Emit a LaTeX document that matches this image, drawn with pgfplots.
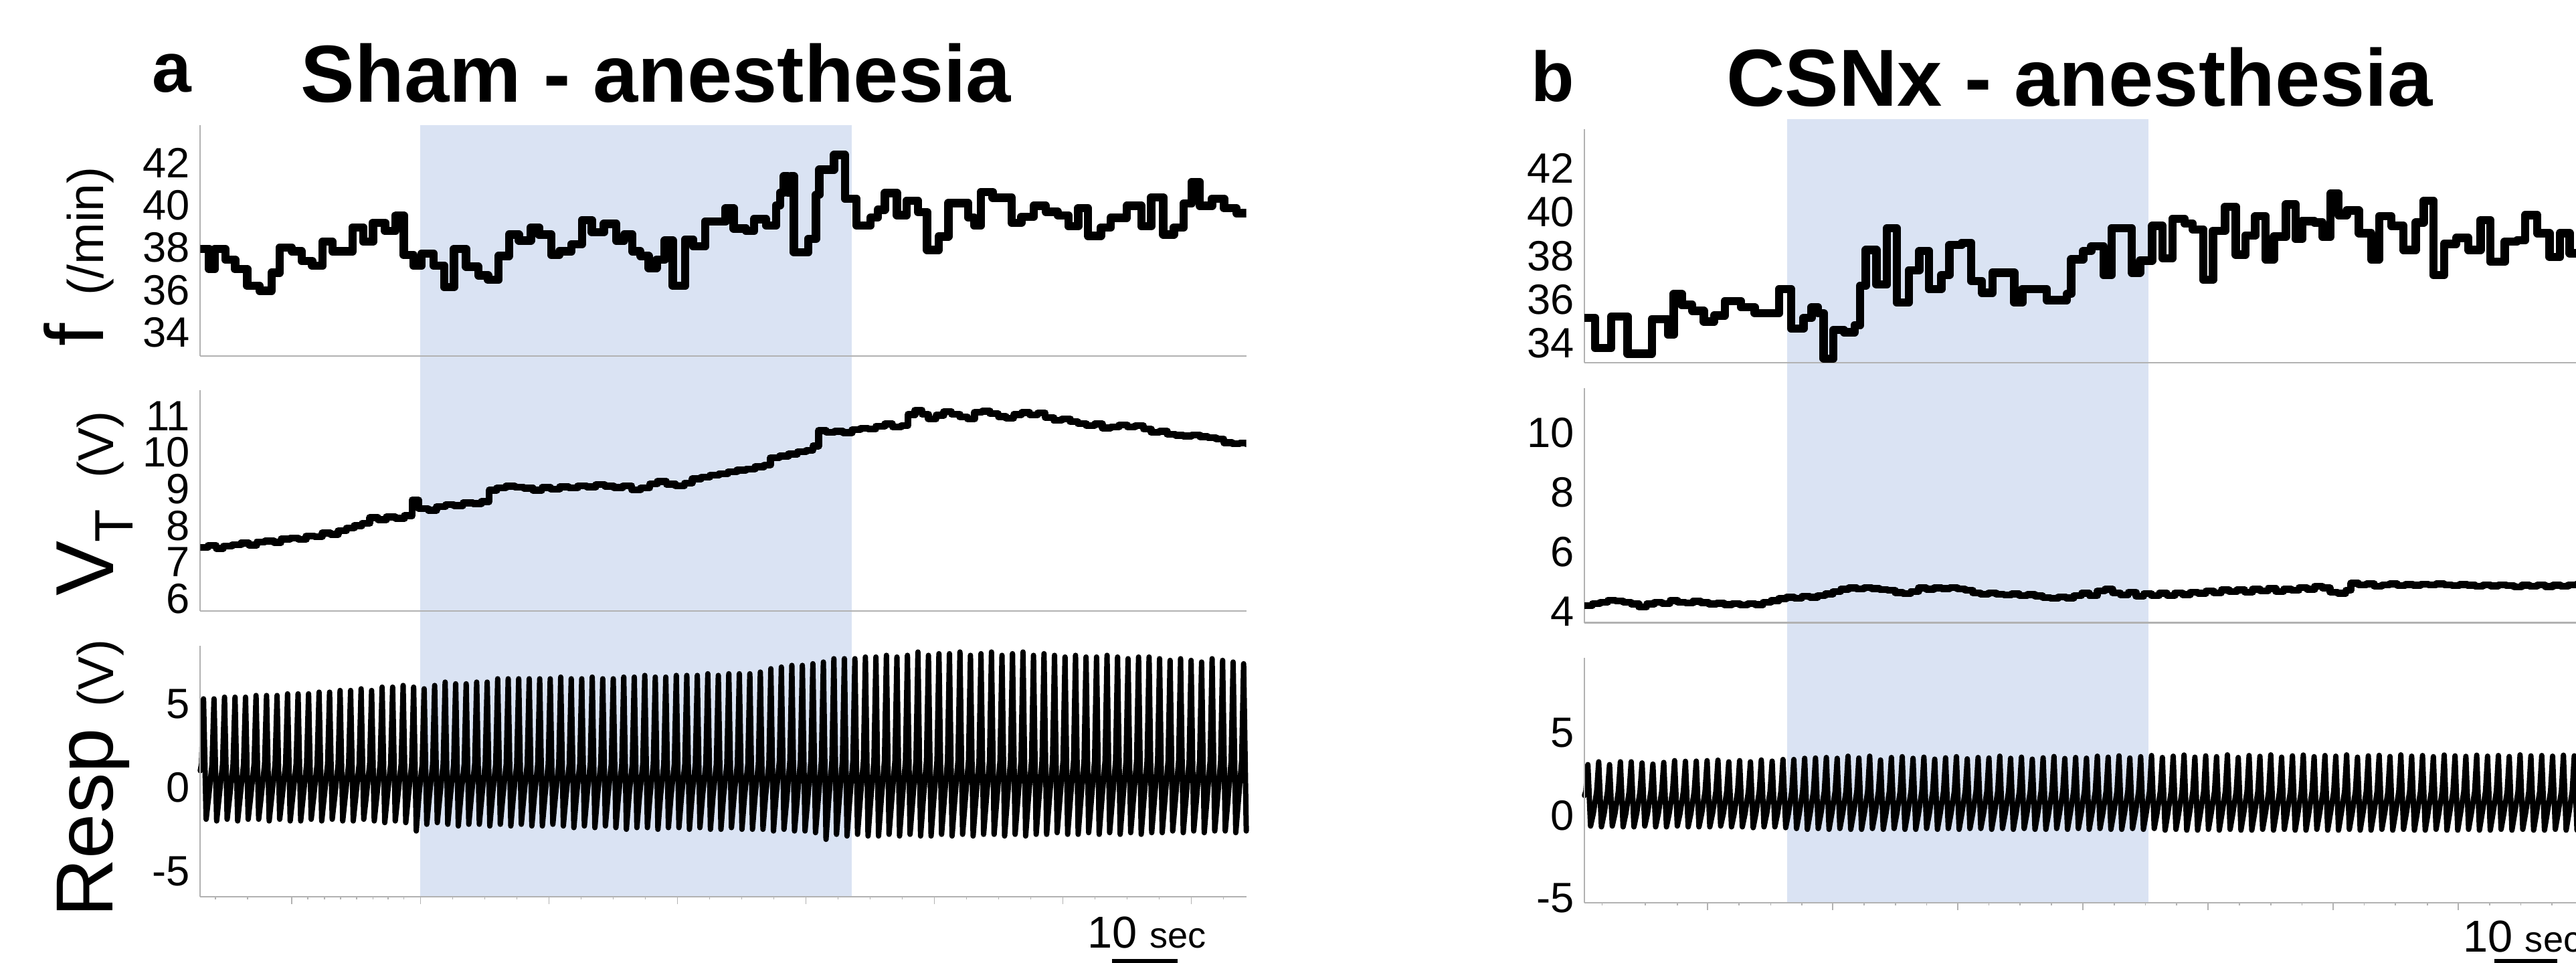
\documentclass[border=0pt]{standalone}
\usepackage{fontspec}
\setmainfont{Liberation Sans}
\usepackage{pgfplots}
\pgfplotsset{compat=1.18}
\usepackage{pgfplotstable}
\definecolor{bandblue}{RGB}{218,227,243}
\definecolor{axgray}{RGB}{178,178,178}

\pgfplotsset{
  tracestyle/.style={black, line join=round, line cap=round, mark=none},
  panel/.style={
    scale only axis, width=7.8167cm,
    axis x line*=bottom, axis y line*=left,
    axis line style={axgray, line width=0.12mm},
    tick align=outside,
    major tick length=0.53mm, minor tick length=0.2mm,
    tick style={axgray, line width=0.08mm},
    ytick style={draw=none},
    yticklabel style={font=\fontsize{9}{9}\selectfont, inner sep=0pt, xshift=-0.17mm},
    xtick=\empty,
  },
}

\begin{document}
\begin{tikzpicture}
\useasboundingbox (0,0) rectangle (19.25,7.195);

% respiration traces: t, a = sham, b = CSNx
\pgfplotstableread{
t a b
0.0 1.0 1.2
0.2 1.4 1.45
0.5 5.3 3.07
0.9 -1.9 -0.65
1.3 -0.5 0.1
1.8 1.4 1.45
2.1 5.3 3.24
2.5 -2.0 -0.70
2.9 -0.5 0.1
3.4 1.4 1.45
3.7 5.4 3.07
4.1 -1.9 -0.65
4.5 -0.5 0.1
5.0 1.4 1.45
5.3 5.4 3.24
5.7 -2.0 -0.70
6.1 -0.5 0.1
6.6 1.4 1.45
6.9 5.4 3.24
7.3 -1.9 -0.70
7.7 -0.5 0.1
8.2 1.4 1.45
8.5 5.5 3.17
8.9 -1.9 -0.65
9.3 -0.5 0.1
9.8 1.4 1.45
10.1 5.5 3.10
10.5 -2.0 -0.70
10.9 -0.5 0.1
11.4 1.4 1.45
11.7 5.5 3.20
12.1 -1.9 -0.70
12.5 -0.5 0.1
13.0 1.4 1.45
13.3 5.6 3.31
13.7 -2.0 -0.65
14.1 -0.5 0.1
14.6 1.4 1.45
14.9 5.6 3.27
15.3 -2.0 -0.70
15.7 -0.5 0.1
16.2 1.4 1.45
16.5 5.6 3.28
16.9 -1.9 -0.70
17.3 -0.5 0.1
17.8 1.4 1.45
18.1 5.7 3.31
18.5 -2.0 -0.70
18.9 -0.5 0.1
19.4 1.4 1.45
19.7 5.7 3.34
20.1 -1.9 -0.65
20.5 -0.5 0.1
21.0 1.4 1.45
21.3 5.8 3.24
21.7 -2.0 -0.70
22.1 -0.5 0.1
22.6 1.4 1.45
22.9 5.8 3.31
23.3 -2.0 -0.70
23.7 -0.5 0.1
24.2 1.4 1.45
24.5 5.9 3.24
24.9 -1.9 -0.75
25.3 -0.5 0.1
25.8 1.4 1.45
26.1 5.8 3.35
26.5 -2.0 -0.70
26.9 -0.5 0.1
27.4 1.4 1.45
27.7 6.0 3.28
28.1 -2.1 -0.70
28.5 -0.5 0.1
29.0 1.4 1.45
29.3 6.0 3.38
29.7 -2.0 -0.75
30.1 -0.5 0.1
30.6 1.4 1.45
30.9 6.1 3.38
31.3 -2.1 -0.80
31.7 -0.5 0.1
32.2 1.4 1.45
32.5 6.0 3.45
32.9 -2.6 -0.85
33.3 -0.5 0.1
33.8 1.4 1.45
34.1 5.9 3.47
34.5 -2.2 -0.80
34.9 -0.5 0.1
35.4 1.4 1.45
35.7 6.1 3.50
36.1 -2.1 -0.85
36.5 -0.5 0.1
37.0 1.4 1.45
37.3 6.3 3.45
37.7 -2.2 -0.80
38.1 -0.5 0.1
38.6 1.4 1.45
38.9 6.2 3.58
39.3 -2.3 -0.85
39.7 -0.5 0.1
40.2 1.4 1.45
40.5 6.2 3.47
40.9 -2.2 -0.85
41.3 -0.5 0.1
41.8 1.4 1.45
42.1 6.3 3.58
42.5 -2.2 -0.80
42.9 -0.5 0.1
43.4 1.4 1.45
43.7 6.3 3.35
44.1 -2.3 -0.85
44.5 -0.5 0.1
45.0 1.4 1.45
45.3 6.5 3.50
45.7 -2.2 -0.80
46.1 -0.5 0.1
46.6 1.4 1.45
46.9 6.5 3.55
47.3 -2.3 -0.85
47.7 -0.5 0.1
48.2 1.4 1.45
48.5 6.5 3.45
48.9 -2.2 -0.85
49.3 -0.5 0.1
49.8 1.4 1.45
50.1 6.5 3.52
50.5 -2.3 -0.80
50.9 -0.5 0.1
51.4 1.4 1.45
51.7 6.5 3.40
52.1 -2.3 -0.85
52.5 -0.5 0.1
53.0 1.4 1.45
53.3 6.5 3.48
53.7 -2.2 -0.80
54.1 -0.5 0.1
54.6 1.4 1.45
54.9 6.6 3.55
55.3 -2.3 -0.85
55.7 -0.5 0.1
56.2 1.4 1.45
56.5 6.5 3.42
56.9 -2.4 -0.80
57.3 -0.5 0.1
57.8 1.4 1.45
58.1 6.5 3.50
58.5 -2.3 -0.80
58.9 -0.5 0.1
59.4 1.4 1.45
59.7 6.6 3.47
60.1 -2.4 -0.85
60.5 -0.5 0.1
61.0 1.4 1.45
61.3 6.5 3.58
61.7 -2.3 -0.80
62.1 -0.5 0.1
62.6 1.4 1.45
62.9 6.5 3.45
63.3 -2.4 -0.85
63.7 -0.5 0.1
64.2 1.4 1.45
64.5 6.6 3.52
64.9 -2.5 -0.80
65.3 -0.5 0.1
65.8 1.4 1.45
66.1 6.6 3.40
66.5 -2.4 -0.85
66.9 -0.5 0.1
67.4 1.4 1.45
67.7 6.7 3.48
68.1 -2.4 -0.85
68.5 -0.5 0.1
69.0 1.4 1.45
69.3 6.6 3.56
69.7 -2.5 -0.80
70.1 -0.5 0.1
70.6 1.4 1.45
70.9 6.6 3.44
71.3 -2.4 -0.85
71.7 -0.5 0.1
72.2 1.4 1.45
72.5 6.7 3.50
72.9 -2.4 -0.80
73.3 -0.5 0.1
73.8 1.4 1.45
74.1 6.7 3.46
74.5 -2.5 -0.85
74.9 -0.5 0.1
75.4 1.4 1.45
75.7 6.7 3.58
76.1 -2.4 -0.80
76.5 -0.5 0.1
77.0 1.4 1.45
77.3 6.8 3.52
77.7 -2.5 -0.85
78.1 -0.5 0.1
78.6 1.4 1.45
78.9 6.7 3.60
79.3 -2.5 -0.85
79.7 -0.5 0.1
80.2 1.4 1.45
80.5 6.8 3.47
80.9 -2.4 -0.80
81.3 -0.5 0.1
81.8 1.4 1.45
82.1 6.8 3.55
82.5 -2.5 -0.85
82.9 -0.5 0.1
83.4 1.4 1.45
83.7 6.8 3.62
84.1 -2.5 -0.80
84.5 -0.5 0.1
85.0 1.4 1.45
85.3 6.9 3.50
85.7 -2.5 -0.90
86.1 -0.5 0.1
86.6 1.4 1.45
86.9 7.1 3.58
87.3 -2.6 -0.85
87.7 -0.5 0.1
88.2 1.6 1.45
88.5 7.2 3.65
88.9 -2.5 -0.90
89.3 -0.8 0.1
89.8 1.6 1.45
90.1 7.3 3.52
90.5 -2.6 -0.90
90.9 -0.8 0.1
91.4 1.6 1.45
91.7 7.3 3.60
92.1 -2.6 -0.85
92.5 -0.8 0.1
93.0 1.6 1.45
93.3 7.4 3.55
93.7 -2.7 -0.90
94.1 -0.8 0.1
94.6 1.6 1.45
94.9 7.5 3.66
95.3 -3.1 -0.85
95.7 -0.8 0.1
96.2 1.6 1.45
96.5 7.7 3.50
96.9 -2.8 -0.90
97.3 -0.8 0.1
97.8 1.6 1.45
98.1 7.7 3.62
98.5 -2.9 -0.90
98.9 -0.8 0.1
99.4 1.6 1.45
99.7 7.7 3.57
100.1 -2.8 -0.85
100.5 -0.8 0.1
101.0 1.6 1.45
101.3 7.8 3.66
101.7 -2.9 -0.90
102.1 -0.8 0.1
102.6 1.6 1.45
102.9 7.8 3.52
103.3 -2.9 -0.85
103.7 -0.8 0.1
104.2 1.6 1.45
104.5 7.9 3.60
104.9 -2.8 -0.90
105.3 -0.8 0.1
105.8 1.6 1.45
106.1 7.8 3.65
106.5 -2.9 -0.90
106.9 -0.8 0.1
107.4 1.6 1.45
107.7 7.9 3.55
108.1 -2.8 -0.85
108.5 -0.8 0.1
109.0 1.6 1.45
109.3 8.1 3.62
109.7 -2.9 -0.90
110.1 -0.8 0.1
110.6 1.6 1.45
110.9 7.9 3.58
111.3 -2.9 -0.90
111.7 -0.8 0.1
112.2 1.6 1.45
112.5 8.0 3.66
112.9 -2.8 -0.85
113.3 -0.8 0.1
113.8 1.6 1.45
114.1 8.0 3.52
114.5 -2.9 -0.90
114.9 -0.8 0.1
115.4 1.6 1.45
115.7 8.1 3.60
116.1 -2.8 -0.90
116.5 -0.8 0.1
117.0 1.6 1.45
117.3 7.9 3.63
117.7 -2.9 -0.85
118.1 -0.8 0.1
118.6 1.6 1.45
118.9 8.0 3.56
119.3 -2.8 -0.90
119.7 -0.8 0.1
120.2 1.6 1.45
120.5 8.1 3.66
120.9 -2.8 -0.85
121.3 -0.8 0.1
121.8 1.6 1.45
122.1 7.9 3.58
122.5 -2.9 -0.90
122.9 -0.8 0.1
123.4 1.6 1.45
123.7 8.0 3.62
124.1 -2.8 -0.90
124.5 -0.8 0.1
125.0 1.6 1.45
125.3 8.1 3.55
125.7 -2.9 -0.85
126.1 -0.8 0.1
126.6 1.6 1.45
126.9 7.9 3.65
127.3 -2.8 -0.90
127.7 -0.8 0.1
128.2 1.6 1.45
128.5 8.0 3.60
128.9 -2.8 -0.90
129.3 -0.8 0.1
129.8 1.6 1.45
130.1 7.9 3.57
130.5 -2.7 -0.85
130.9 -0.8 0.1
131.4 1.6 1.45
131.7 7.8 3.64
132.1 -2.8 -0.90
132.5 -0.8 0.1
133.0 1.6 1.45
133.3 7.9 3.58
133.7 -2.8 -0.90
134.1 -0.8 0.1
134.6 1.6 1.45
134.9 7.8 3.62
135.3 -2.7 -0.85
135.7 -0.8 0.1
136.2 1.6 1.45
136.5 7.8 3.56
136.9 -2.8 -0.90
137.3 -0.8 0.1
137.8 1.6 1.45
138.1 7.9 3.66
138.5 -2.7 -0.85
138.9 -0.8 0.1
139.4 1.6 1.45
139.7 7.8 3.60
140.1 -2.8 -0.90
140.5 -0.8 0.1
141.0 1.6 1.45
141.3 7.7 3.62
141.7 -2.7 -0.90
142.1 -0.8 0.1
142.6 1.6 1.45
142.9 7.8 3.58
143.3 -2.8 -0.85
143.7 -0.8 0.1
144.2 1.6 1.45
144.5 7.8 3.64
144.9 -2.7 -0.90
145.3 -0.8 0.1
145.8 1.6 1.45
146.1 7.7 3.60
146.5 -2.7 -0.90
146.9 -0.8 0.1
147.4 1.6 1.45
147.7 7.6 3.56
148.1 -2.6 -0.85
148.5 -0.8 0.1
149.0 1.6 1.45
149.3 7.7 3.62
149.7 -2.7 -0.90
150.1 -0.8 0.1
150.6 1.6 1.45
150.9 7.6 3.60
151.3 -2.6 -0.85
151.7 -0.8 0.1
152.2 1.6 1.45
152.5 7.5 3.64
152.9 -2.7 -0.90
153.3 -0.8 0.1
153.8 1.6 1.45
154.1 7.7 3.60
154.5 -2.6 -0.90
154.9 -0.8 0.1
155.4 1.6 1.45
155.7 7.6 3.62
156.1 -2.6 -0.85
156.5 -0.8 0.1
157.0 1.6 1.45
157.3 7.5 3.58
157.7 -2.7 -0.90
158.1 -0.8 0.1
158.6 1.6 1.45
158.9 7.4 3.60
159.3 -2.6 -0.90
}\resptab

%% ---------- panel a ----------
\begin{axis}[panel, at={(1.4963cm,0.4953cm)}, anchor=south west,
    height=1.8744cm, xmin=0, xmax=159.3, ymin=-6.53, ymax=8.47,
    clip=false, axis on top,
    ytick={-5,0,5}, yticklabels={-5,0,5},
    xtick={13.96,33.53,53.1,72.67,92.24,111.81,131.38,150.95}, xticklabels={},
    minor xtick={2.3,7.2,16.4,18.9,21.4,23.8,26.3,28.6,31.0,38.42,43.31,48.21,57.99,62.88,67.78,77.56,82.45,87.35,97.13,102.02,106.92,116.70,121.59,126.49,136.27,141.16,146.06,155.84}]
  \addplot[fill=bandblue, draw=none, forget plot] coordinates {(33.5,-6.53) (99.2,-6.53) (99.2,39.6) (33.5,39.6)};
  \addplot[tracestyle, line width=0.4mm] table[x=t, y=a] {\resptab};
  \draw[black, line width=0.45mm] (axis cs:138.9,-10.45) -- (axis cs:148.8,-10.45);
\end{axis}

\begin{axis}[panel, at={(1.4963cm,4.5362cm)}, anchor=south west,
    height=1.7222cm, xmin=0, xmax=162.9, ymin=32.9, ymax=43.77,
    ytick={34,36,38,40,42}, yticklabels={34,36,38,40,42}]
  \addplot[tracestyle, line width=0.62mm, const plot] coordinates {
    (0,37.94) (1.39,36.99) (2.27,37.94) (3.91,37.44) (5.43,36.99) (7.32,36.20) (9.22,35.97) (11.11,36.82)
    (12.37,38.00) (14.27,37.83) (15.78,37.38) (17.42,37.15) (19.06,38.28) (20.58,37.83) (23.74,38.96)
    (25.38,38.28) (26.89,39.18) (28.79,38.79) (30.43,39.52) (31.69,37.66) (33.20,37.15) (34.47,37.72)
    (36.36,37.15) (38.00,36.14) (39.52,37.94) (41.41,37.10) (43.30,36.70) (44.82,36.48) (46.46,37.61)
    (48.10,38.62) (49.62,38.34) (51.51,38.96) (52.77,38.62) (54.67,37.66) (55.93,37.83) (57.82,38.17)
    (59.46,39.30) (60.98,38.73) (62.87,39.13) (64.77,38.34) (66.03,38.62) (67.29,37.83) (68.55,37.61)
    (69.82,37.04) (71.08,37.44) (72.34,38.34) (73.60,36.20) (75.50,38.39) (76.76,38.06) (78.65,39.24)
    (81.81,39.86) (83.07,38.90) (84.97,38.79) (86.23,39.35) (88.12,39.05) (89.67,40.0) (90.3,40.6)
    (90.9,41.37) (91.5,40.6) (92.0,41.37) (92.45,37.79) (94.7,38.42) (95.9,40.5) (96.4,41.68)
    (98.7,42.37) (100.4,40.31) (102.2,39.05) (104.4,39.42) (105.5,39.79) (106.6,40.58) (108.5,39.53)
    (110.0,40.21) (111.8,39.68) (113.2,37.89) (115.0,38.53) (116.5,40.10) (119.6,39.42) (120.5,39.05)
    (121.6,40.63) (123.4,40.36) (126.38,39.18) (127.89,39.46) (129.79,39.97) (131.68,39.69) (133.57,39.52)
    (135.21,39.01) (136.73,39.86) (138.24,38.56) (140.26,38.96) (141.78,39.41) (144.30,39.97) (146.58,39.01)
    (148.09,40.37) (149.98,38.62) (151.63,38.96) (153.14,40.08) (154.40,41.10) (155.66,39.97) (157.56,40.31)
    (159.45,39.86) (161.35,39.63) (162.9,39.63)};
\end{axis}

\begin{axis}[panel, at={(1.4963cm,2.6312cm)}, anchor=south west,
    height=1.6473cm, xmin=0, xmax=162.9, ymin=5.67, ymax=11.70,
    ytick={6,7,8,9,10,11}, yticklabels={6,7,8,9,10,11}]
  \addplot[tracestyle, line width=0.52mm, const plot] coordinates {
    (0,7.40) (1.2,7.46) (2.5,7.38) (3.6,7.44) (5.0,7.48) (6.4,7.52) (7.6,7.47) (8.8,7.55) (10.1,7.58)
    (11.5,7.54) (12.6,7.63) (14.0,7.66) (15.3,7.62) (16.5,7.72) (17.8,7.70) (19.0,7.80) (20.3,7.76)
    (21.5,7.86) (22.8,7.94) (24.0,8.00) (25.2,8.06) (26.4,8.22) (27.7,8.16) (29.0,8.24) (30.4,8.20)
    (31.8,8.27) (33.0,8.70) (34.0,8.47) (35.5,8.42) (36.8,8.52) (38.2,8.57) (39.5,8.55) (40.9,8.62)
    (42.5,8.60) (43.8,8.66) (45.0,8.97) (46.2,9.03) (47.6,9.08) (49.0,9.05) (50.4,9.02) (51.8,8.97)
    (53.2,9.04) (54.6,9.00) (56.0,9.06) (57.4,9.03) (58.8,9.09) (60.2,9.06) (61.6,9.12) (63.0,9.08)
    (64.4,9.04) (65.8,9.09) (67.2,8.98) (68.6,9.03) (70.0,9.14) (71.2,9.21) (72.6,9.13) (74.0,9.09)
    (75.4,9.16) (76.6,9.28) (78.0,9.33) (79.4,9.38) (80.8,9.42) (82.2,9.47) (83.6,9.52) (85.0,9.55)
    (86.4,9.61) (87.8,9.66) (88.8,9.86) (90.2,9.90) (91.6,9.96) (93.0,10.02) (94.4,10.06) (95.4,10.18)
    (96.3,10.60) (97.5,10.55) (98.8,10.58) (100.1,10.54) (101.5,10.62) (102.8,10.66) (104.0,10.64)
    (105.2,10.72) (106.6,10.78) (107.8,10.70) (109.2,10.74) (110.2,11.04) (111.3,11.16) (112.4,11.05)
    (113.4,10.92) (114.6,11.02) (115.8,11.12) (117.0,11.05) (118.3,10.97) (119.5,10.92) (120.6,11.10)
    (121.8,11.13) (123.0,11.06) (124.3,10.98) (125.5,10.94) (126.7,11.04) (127.9,11.09) (129.2,11.03)
    (130.4,11.08) (131.6,10.96) (132.9,10.88) (134.2,10.92) (135.5,10.84) (136.7,10.79) (138.0,10.74)
    (139.3,10.78) (140.5,10.67) (141.8,10.70) (143.1,10.75) (144.4,10.70) (145.6,10.73) (146.9,10.64)
    (148.1,10.55) (149.4,10.58) (150.6,10.50) (151.9,10.47) (153.1,10.45) (154.4,10.48) (155.7,10.43)
    (156.9,10.41) (158.2,10.37) (159.4,10.27) (160.7,10.24) (161.9,10.26) (162.9,10.24)};
\end{axis}

%% ---------- panel b ----------
\begin{axis}[panel, at={(11.8405cm,0.4499cm)}, anchor=south west,
    height=1.829cm, xmin=0, xmax=154.4, ymin=-5.3, ymax=9.53,
    clip=false, axis on top,
    ytick={-5,0,5}, yticklabels={-5,0,5},
    xtick={18.16,36.63,55.1,73.57,92.04,110.51,128.98,147.45}, xticklabels={},
    minor xtick={2.6,9.0,13.7,22.8,27.5,32.1,41.3,45.9,50.5,59.7,64.3,68.9,78.2,82.8,87.4,96.7,101.3,105.9,115.1,119.7,124.4,133.6,138.2,142.8,152.1}]
  \addplot[fill=bandblue, draw=none, forget plot] coordinates {(29.9,-5.3) (83.2,-5.3) (83.2,42.16) (29.9,42.16)};
  \addplot[tracestyle, line width=0.4mm] table[x=t, y=b] {\resptab};
  \draw[black, line width=0.45mm] (axis cs:134.3,-8.9) -- (axis cs:143.6,-8.9);
\end{axis}

\begin{axis}[panel, at={(11.8405cm,4.4835cm)}, anchor=south west,
    height=1.7467cm, xmin=0, xmax=161.6, ymin=33.09, ymax=43.81,
    ytick={34,36,38,40,42}, yticklabels={34,36,38,40,42}]
  \addplot[tracestyle, line width=0.62mm, const plot] coordinates {
    (0,35.15) (1.63,33.78) (4.13,35.21) (6.64,33.51) (10.40,35.10) (12.90,34.38) (13.78,36.25) (15.03,35.75)
    (16.66,35.48) (18.42,34.99) (20.04,35.26) (21.67,35.92) (24.18,35.64) (26.31,35.37) (30.07,36.47)
    (31.95,34.66) (33.83,35.15) (35.08,35.64) (36.08,35.37) (36.96,33.29) (38.46,34.60) (40.09,34.49)
    (41.72,34.82) (42.60,36.63) (43.47,38.27) (45.10,36.68) (46.73,39.26) (48.23,35.86) (50.11,37.34)
    (51.74,38.22) (53.24,36.47) (55.12,37.12) (56.38,38.49) (58.26,38.60) (59.76,36.85) (61.39,36.30)
    (63.02,37.23) (66.40,35.86) (67.65,36.47) (71.41,35.97) (74.54,36.25) (75.17,37.84) (77.05,38.22)
    (78.30,38.44) (80.18,37.12) (81.43,39.26) (84.56,37.23) (85.82,37.78) (87.70,39.37) (89.32,37.89)
    (90.83,39.70) (92.71,39.48) (93.96,39.21) (95.59,36.90) (97.09,39.15) (98.97,40.25) (100.60,38.05)
    (102.10,38.93) (103.61,39.81) (105.24,37.84) (106.49,38.88) (108.37,40.36) (109.87,38.77) (110.87,39.59)
    (112.75,39.53) (114.00,38.88) (115.26,40.85) (116.51,39.86) (117.76,40.08) (119.64,39.04) (121.52,37.84)
    (122.77,39.81) (124.65,39.37) (126.53,38.27) (128.41,39.53) (129.66,40.52) (131.17,37.12) (132.80,38.55)
    (134.68,38.82) (136.55,38.27) (138.43,39.64) (139.94,37.73) (142.19,38.66) (144.07,38.71) (145.32,39.86)
    (147.20,39.04) (149.08,37.95) (150.71,39.04) (152.21,38.11) (155.0,38.6) (158.0,38.2) (161.6,38.2)};
\end{axis}

\begin{axis}[panel, at={(11.8405cm,2.5415cm)}, anchor=south west,
    height=1.7529cm, xmin=0, xmax=161.6, ymin=3.61, ymax=11.50,
    ytick={4,6,8,10}, yticklabels={4,6,8,10}]
  \addplot[tracestyle, line width=0.52mm, const plot] coordinates {
    (0,4.19) (1.2,4.26) (2.4,4.30) (3.6,4.37) (4.8,4.34) (6.0,4.30) (7.2,4.24) (8.4,4.14) (9.6,4.24)
    (10.8,4.30) (12.0,4.26) (13.2,4.36) (14.4,4.30) (15.6,4.28) (16.8,4.33) (18.0,4.29) (19.2,4.24)
    (20.4,4.27) (21.6,4.22) (22.8,4.26) (24.0,4.21) (25.2,4.25) (26.4,4.22) (27.6,4.30) (28.8,4.36)
    (30.0,4.42) (31.2,4.47) (32.4,4.44) (33.6,4.50) (34.8,4.47) (36.0,4.53) (37.2,4.58) (38.4,4.66)
    (39.6,4.74) (40.8,4.78) (42.0,4.75) (43.2,4.79) (44.4,4.76) (45.6,4.73) (46.8,4.70) (48.0,4.63)
    (49.2,4.59) (50.4,4.66) (51.6,4.78) (52.8,4.74) (54.0,4.78) (55.2,4.76) (56.4,4.79) (57.6,4.75)
    (58.8,4.70) (60.0,4.62) (61.2,4.57) (62.4,4.62) (63.6,4.57) (64.8,4.55) (66.0,4.58) (67.2,4.52)
    (68.4,4.56) (69.6,4.51) (70.8,4.46) (72.0,4.43) (73.2,4.48) (74.4,4.45) (75.6,4.52) (76.8,4.60)
    (78.0,4.52) (79.2,4.68) (80.4,4.74) (81.6,4.62) (82.8,4.55) (84.0,4.64) (85.2,4.50) (86.4,4.59)
    (87.6,4.52) (88.8,4.60) (90.0,4.53) (91.2,4.62) (92.4,4.56) (93.6,4.64) (94.8,4.60) (96.0,4.68)
    (97.2,4.62) (98.4,4.72) (99.6,4.66) (100.8,4.72) (102.0,4.64) (103.2,4.74) (104.4,4.68) (105.6,4.76)
    (106.8,4.66) (108.0,4.74) (109.2,4.70) (110.4,4.80) (111.6,4.74) (112.8,4.84) (114.0,4.78) (115.2,4.64)
    (116.4,4.60) (117.6,4.70) (118.4,4.94) (119.6,4.88) (120.8,4.92) (122.0,4.84) (123.2,4.88) (124.4,4.92)
    (125.6,4.86) (126.8,4.90) (128.0,4.87) (129.2,4.91) (130.4,4.88) (131.6,4.92) (132.8,4.89) (134.0,4.86)
    (135.2,4.90) (136.4,4.87) (137.6,4.84) (138.8,4.88) (140.0,4.85) (141.2,4.89) (142.4,4.86) (143.6,4.82)
    (144.8,4.87) (146.0,4.84) (147.2,4.88) (148.4,4.83) (149.6,4.87) (150.8,4.84) (152.0,4.89) (153.2,4.90)
    (154.4,4.86) (155.6,4.88) (161.6,4.88)};
\end{axis}

%% ---------- text, in reference pixels from the top left ----------
\begin{scope}[shift={(0,7.195)}, x=0.012275cm, y=-0.012275cm,
    every node/.style={inner sep=0pt, anchor=base west}]
  \node at (92.2,56) {\fontsize{15}{15}\selectfont\bfseries a};
  \node at (182.7,62.3) {\fontsize{17.2}{17.2}\selectfont\bfseries Sham - anesthesia};
  \node at (932,61.8) {\fontsize{15}{15}\selectfont\bfseries b};
  \node at (1051.2,64.5) {\fontsize{17.2}{17.2}\selectfont\bfseries CSNx - anesthesia};
  \node[rotate=90] at (63.1,211.4) {\fontsize{17.5}{17.5}\selectfont f};
  \node[rotate=90] at (63.1,180.5) {\fontsize{10.7}{10.7}\selectfont (/min)};
  \node[rotate=90] at (69.2,363.7) {\fontsize{17.5}{17.5}\selectfont V};
  \node[rotate=90] at (80.7,330.8) {\fontsize{11.5}{11.5}\selectfont T};
  \node[rotate=90] at (69.2,291.8) {\fontsize{10.7}{10.7}\selectfont (V)};
  \node[rotate=90] at (68.6,559.1) {\fontsize{17.2}{17.2}\selectfont Resp};
  \node[rotate=90] at (69.2,431.0) {\fontsize{10.7}{10.7}\selectfont (V)};
  \node at (661.9,577.2) {\fontsize{9.5}{9.5}\selectfont 10 \fontsize{7.7}{7.7}\selectfont sec};
  \node at (1499.7,579.8) {\fontsize{9.5}{9.5}\selectfont 10 \fontsize{7.7}{7.7}\selectfont sec};
\end{scope}
\end{tikzpicture}
\end{document}
